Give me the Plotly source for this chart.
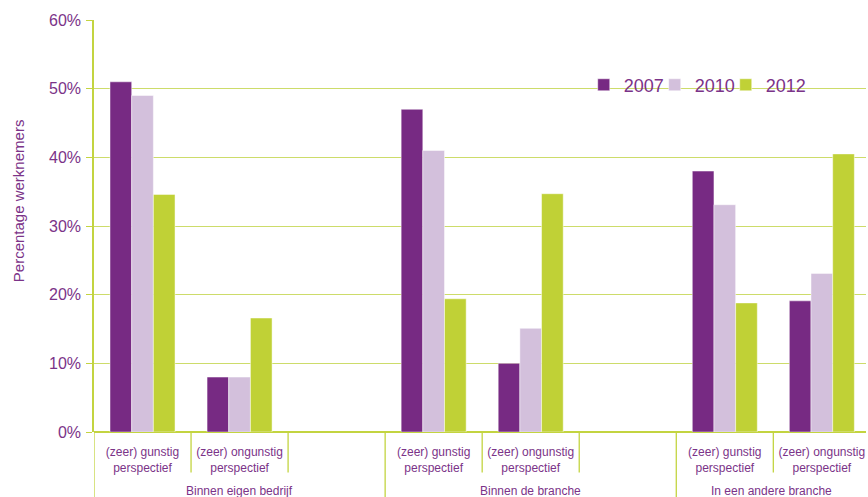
import plotly.graph_objects as go

# Survey results: share of employees per perspective, per area and year
groups = ["Binnen eigen bedrijf", "Binnen de branche", "In een andere branche"]
slot_labels = ["(zeer) gunstig<br>perspectief", "(zeer) ongunstig<br>perspectief", ""]
years = ["2007", "2010", "2012"]

v2007 = [51.0, 8.0, None, 47.0, 10.0, None, 38.0, 19.1, None]
v2010 = [49.0, 8.0, None, 41.0, 15.1, None, 33.1, 23.1, None]
v2012 = [34.6, 16.6, None, 19.4, 34.7, None, 18.8, 40.5, None]

colors = ["#772a83", "#d3c0dc", "#c0d136"]
text_color = "#7b3388"
axis_green = "#c3d440"
grid_green = "#cddc6a"

W, H = 868, 497
M_L, M_R, M_T, M_B = 94, 0, 20, 65
plot_w = W - M_L - M_R
plot_h = H - M_T - M_B


def px_x(px):
    return (px - M_L) / plot_w


def px_y(py):
    return (H - M_B - py) / plot_h


n_slots = len(groups) * len(slot_labels)
x_pos = list(range(n_slots))
tick_text = slot_labels * len(groups)
x_max = 7.455  # visible part of the category axis

fig = go.Figure()
for year, vals, col in zip(years, [v2007, v2010, v2012], colors):
    fig.add_trace(go.Bar(
        x=x_pos, y=[None if v is None else v / 100 for v in vals],
        name=year,
        marker=dict(color=col, line=dict(color="rgba(255,255,255,0.6)", width=0.8)),
    ))
# empty legend slot so the last year label gets room inside the fixed-width legend
fig.add_trace(go.Scatter(
    x=[None], y=[None], name=" ", mode="markers", hoverinfo="skip",
    marker=dict(color="rgba(0,0,0,0)"),
))

shapes = []
# dividers between sub-categories (short) and between groups (long)
for k in range(n_slots + 1):
    xb = k - 0.5
    is_group_edge = (k % len(slot_labels) == 0)
    shapes.append(dict(
        type="line", xref="x", yref="paper", x0=xb, x1=xb,
        y0=0, y1=-0.2 if is_group_edge else -0.098,
        line=dict(color=axis_green, width=1.3),
    ))

# white backdrop behind the legend, interrupting the 50% gridline
shapes.append(dict(
    type="rect", xref="paper", yref="paper", layer="between",
    x0=px_x(586), x1=px_x(803), y0=px_y(97), y1=px_y(68),
    fillcolor="white", line=dict(width=0),
))

# group labels, centred on the visible part of each group
annotations = []
for gi, g in enumerate(groups):
    left = gi * len(slot_labels) - 0.5
    right = min(left + len(slot_labels), x_max)
    annotations.append(dict(
        x=(left + right) / 2, y=-0.143, xref="x", yref="paper",
        text=g, showarrow=False, yanchor="middle",
        font=dict(size=12, color=text_color),
    ))

# y-axis title
annotations.append(dict(
    x=px_x(18), y=px_y(201), xref="paper", yref="paper", text="Percentage werknemers",
    showarrow=False, textangle=-90, xanchor="center", yanchor="middle",
    font=dict(size=15, color=text_color),
))

fig.update_layout(
    width=W, height=H,
    margin=dict(l=M_L, r=M_R, t=M_T, b=M_B),
    paper_bgcolor="white", plot_bgcolor="white",
    font=dict(family="Liberation Sans, Arial, sans-serif", color=text_color),
    barmode="group", bargap=0.33, bargroupgap=0,
    xaxis=dict(
        range=[-0.5, x_max], tickmode="array", tickvals=x_pos, ticktext=tick_text,
        showgrid=False, zeroline=False, showline=False, ticks="",
        tickfont=dict(size=12, color=text_color), ticklabelstandoff=11,
    ),
    yaxis=dict(
        range=[0, 0.6], dtick=0.1, tickformat=".0%",
        showgrid=True, gridcolor=grid_green, gridwidth=1.3,
        showline=True, linecolor=axis_green, linewidth=1.5,
        zeroline=True, zerolinecolor=axis_green, zerolinewidth=1.5,
        ticks="outside", ticklen=6, tickcolor=axis_green,
        tickfont=dict(size=16, color=text_color), ticklabelstandoff=2,
    ),
    legend=dict(
        orientation="h", x=px_x(585), xanchor="left", y=0.887, yanchor="top",
        bgcolor="rgba(0,0,0,0)", font=dict(size=18, color=text_color),
        itemwidth=30, traceorder="normal",
        entrywidth=26, entrywidthmode="pixels",
    ),
    shapes=shapes, annotations=annotations,
)

fig.write_html("out.html")
